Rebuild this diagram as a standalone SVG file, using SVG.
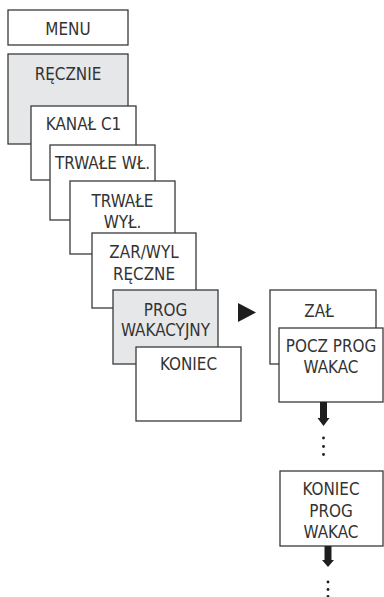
<svg xmlns="http://www.w3.org/2000/svg" width="384" height="597" viewBox="0 0 384 597">
<style>
.b{fill:#fff;stroke:#3a3a3a;stroke-width:1.3}
.g{fill:#e6e7e8}
text{font-family:"DejaVu Sans Condensed","Liberation Sans Narrow",sans-serif;font-size:18px;fill:#333;text-anchor:middle}
.a{fill:#1e1e1e}
</style>
<rect width="384" height="597" fill="#fff"/>
<g id="menu"><rect class="b" x="8" y="10" width="120" height="35"/><text transform="translate(68 35) scale(.94 1)">MENU</text></g>
<g id="recznie"><rect class="b g" x="8" y="54" width="120" height="90"/><text transform="translate(68 80) scale(.94 1)">RĘCZNIE</text></g>
<g id="kanal"><rect class="b" x="31" y="106" width="105" height="74"/><text transform="translate(83.5 130) scale(.94 1)">KANAŁ C1</text></g>
<g id="trwale-wl"><rect class="b" x="50" y="145" width="105" height="75"/><text transform="translate(102.5 169) scale(.94 1)">TRWAŁE WŁ.</text></g>
<g id="trwale-wyl"><rect class="b" x="70" y="181" width="105" height="73"/><text transform="translate(122.5 207) scale(.94 1)">TRWAŁE</text><text transform="translate(122.5 228) scale(.94 1)">WYŁ.</text></g>
<g id="zar-wyl"><rect class="b" x="92" y="233" width="104" height="75"/><text transform="translate(144 258) scale(.94 1)">ZAR/WYL</text><text transform="translate(144 280) scale(.94 1)">RĘCZNE</text></g>
<g id="prog"><rect class="b g" x="113" y="290" width="105" height="74"/><text transform="translate(165.5 315.5) scale(.94 1)">PROG</text><text transform="translate(165.5 336) scale(.94 1)">WAKACYJNY</text></g>
<g id="koniec"><rect class="b" x="136" y="347" width="105" height="74"/><text transform="translate(188.5 370) scale(.94 1)">KONIEC</text></g>
<g id="zal"><rect class="b" x="270" y="290" width="106" height="74"/><text transform="translate(319 317) scale(.94 1)">ZAŁ</text></g>
<g id="pocz"><rect class="b" x="279" y="328" width="104" height="74"/><text transform="translate(331 352) scale(.94 1)">POCZ PROG</text><text transform="translate(331 373) scale(.94 1)">WAKAC</text></g>
<g id="koniec-prog"><rect class="b" x="280" y="471" width="103" height="75"/><text transform="translate(331 495) scale(.94 1)">KONIEC</text><text transform="translate(331 517) scale(.94 1)">PROG</text><text transform="translate(331 538) scale(.94 1)">WAKAC</text></g>
<g id="connectors">
<polygon class="a" points="238,303 238,322 256,312.5"/>
<polygon class="a" points="320,402 327,402 327,418 329.5,418 323.5,426 317.5,418 320,418"/>
<circle class="a" cx="323.5" cy="438" r="1.4"/><circle class="a" cx="323.5" cy="446.5" r="1.4"/><circle class="a" cx="323.5" cy="454.5" r="1.4"/>
<polygon class="a" points="324.5,546 331.5,546 331.5,560 334,560 328,567 322,560 324.5,560"/>
<circle class="a" cx="328" cy="582" r="1.4"/><circle class="a" cx="328" cy="589.5" r="1.4"/><circle class="a" cx="328" cy="596.5" r="1.4"/>
</g>
</svg>
